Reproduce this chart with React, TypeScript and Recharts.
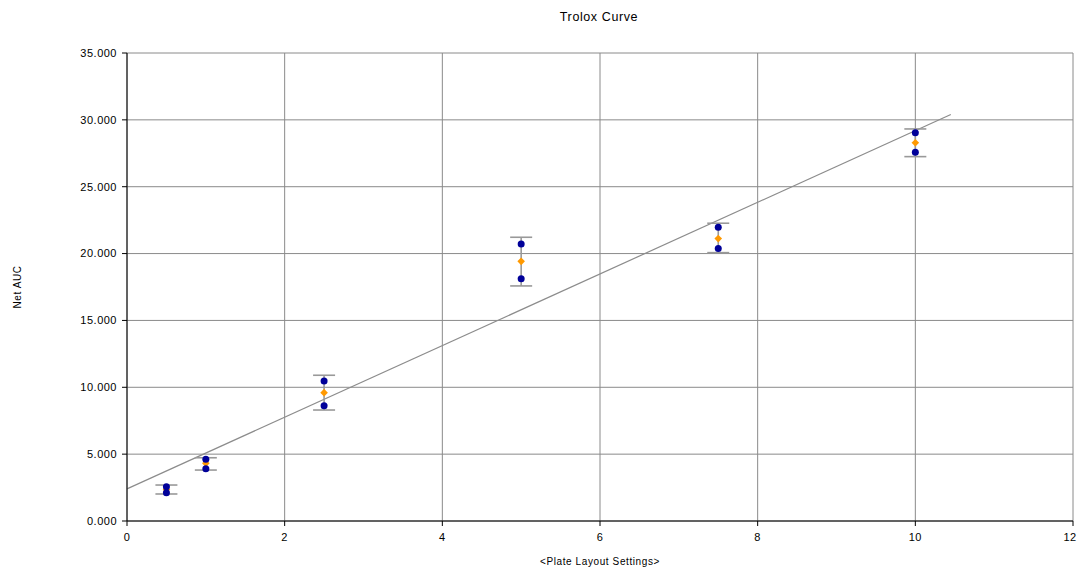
import React from 'react';
import { ScatterChart, Scatter, XAxis, YAxis, CartesianGrid, ErrorBar, ReferenceLine } from 'recharts';

const concentrations = [0.5, 1, 2.5, 5, 7.5, 10];
const replicateA = [2.56, 4.61, 10.47, 20.72, 21.97, 29.04];
const replicateB = [2.12, 3.91, 8.62, 18.12, 20.37, 27.58];
const means = [2.35, 4.31, 9.6, 19.42, 21.12, 28.29];
const errLow = [0.33, 0.5, 1.3, 1.84, 1.05, 1.04];
const errHigh = [0.34, 0.42, 1.3, 1.8, 1.15, 1.03];
const trendStart = { x: 0, y: 2.4 };
const trendEnd = { x: 10.45, y: 30.4 };
const xTicks = [0, 2, 4, 6, 8, 10, 12];
const yTicks = [0, 5, 10, 15, 20, 25, 30, 35];

const replicateData = concentrations.flatMap((c, i) => [
  { x: c, y: replicateA[i] },
  { x: c, y: replicateB[i] },
]);
const meanData = concentrations.map((c, i) => ({ x: c, y: means[i], err: [errLow[i], errHigh[i]] }));

const FONT = '"Liberation Sans", Arial, sans-serif';
const tickStyle = { fontSize: 11, fill: '#000', fontFamily: FONT, letterSpacing: 0.5 };

const XTick = (props: any) => {
  const { x, y, payload } = props;
  const last = payload.value === xTicks[xTicks.length - 1];
  return (
    <text
      x={last ? x - 3 : x}
      y={y}
      dy="0.71em"
      textAnchor="middle"
      fontSize={11}
      fontFamily={FONT}
      letterSpacing={0.5}
      fill="#000"
    >
      {payload.value}
    </text>
  );
};

const Diamond = (props: any) => {
  const { cx, cy } = props;
  if (cx == null || cy == null) return null;
  const r = 3.8;
  return <polygon points={`${cx},${cy - r} ${cx + r},${cy} ${cx},${cy + r} ${cx - r},${cy}`} fill="#FF9900" />;
};

const Dot = (props: any) => {
  const { cx, cy } = props;
  if (cx == null || cy == null) return null;
  return <circle cx={cx} cy={cy} r={3.5} fill="#000099" />;
};

export default function App() {
  return (
    <div style={{ position: 'absolute', left: 0, top: 0, width: 1078, height: 567, background: '#fff' }}>
      <div
        style={{
          position: 'absolute',
          top: 10,
          left: 0,
          width: 1198,
          textAlign: 'center',
          fontFamily: FONT,
          fontSize: 12.5,
          letterSpacing: 0.6,
          color: '#000',
        }}
      >
        Trolox Curve
      </div>
      <ScatterChart width={1078} height={567} margin={{ top: 53, right: 5, left: 0, bottom: 0 }}>
        <CartesianGrid stroke="#8a8a8a" strokeWidth={1} />
        <XAxis
          type="number"
          dataKey="x"
          domain={[0, 12]}
          ticks={xTicks}
          interval={0}
          height={46}
          tick={<XTick />}
          tickSize={5}
          tickMargin={7}
          axisLine={{ stroke: '#000' }}
          tickLine={{ stroke: '#000' }}
          allowDataOverflow
          label={{ value: '<Plate Layout Settings>', position: 'insideBottom', offset: 2, style: { fontSize: 10, fontFamily: FONT, letterSpacing: 0.6, fill: '#000' } }}
        />
        <YAxis
          type="number"
          dataKey="y"
          domain={[0, 35]}
          ticks={yTicks}
          interval={0}
          width={127}
          tick={tickStyle}
          tickSize={5}
          tickMargin={5}
          tickFormatter={(v: number) => v.toFixed(3)}
          axisLine={{ stroke: '#000' }}
          tickLine={{ stroke: '#000' }}
          allowDataOverflow
          label={{ value: 'Net AUC', angle: -90, position: 'center', dx: -46, style: { fontSize: 10, fontFamily: FONT, letterSpacing: 0.6, fill: '#000', textAnchor: 'middle' } }}
        />
        <ReferenceLine segment={[trendStart, trendEnd]} stroke="#8c8c8c" strokeWidth={1.2} />
        <Scatter data={meanData} shape={<Diamond />} isAnimationActive={false}>
          <ErrorBar dataKey="err" direction="y" width={11} stroke="#999999" strokeWidth={1.6} />
        </Scatter>
        <Scatter data={replicateData} shape={<Dot />} isAnimationActive={false} />
      </ScatterChart>
    </div>
  );
}
